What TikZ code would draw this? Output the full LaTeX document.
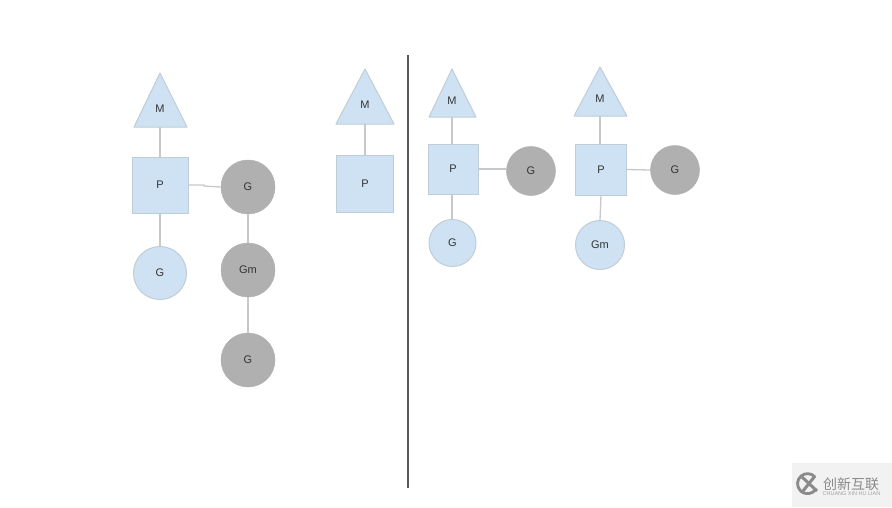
\documentclass[tikz,border=0pt]{standalone}
\usepackage{fontspec}
\setmainfont{Liberation Sans}
\newfontfamily\cjkfont{Noto Sans CJK SC}
\definecolor{bluefill}{HTML}{CFE2F3}
\definecolor{blueedge}{HTML}{BFCDD6}
\definecolor{grayfill}{HTML}{B0B0B0}
\definecolor{linkc}{HTML}{C6C9CB}
\definecolor{wmbg}{HTML}{F2F2F2}
\definecolor{wmfg}{HTML}{8A8A8A}
\tikzset{
  x=1pt,y=-1pt,
  link/.style={draw=linkc,line width=1.3pt},
  sq/.style={draw=blueedge,fill=bluefill,line width=1pt,minimum size=#1,inner sep=0pt,font=\fontsize{11}{11}\selectfont,text=black!80},
  gcirc/.style={circle,draw=grayfill,fill=grayfill,line width=.5pt,minimum size=#1,inner sep=0pt,font=\fontsize{11}{11}\selectfont,text=black!80},
  bcirc/.style={circle,draw=blueedge,fill=bluefill,line width=1pt,minimum size=#1,inner sep=0pt,font=\fontsize{11}{11}\selectfont,text=black!80},
  tri/.style={draw=blueedge,fill=bluefill,line width=1pt,line join=round},
  trilabel/.style={inner sep=0pt,font=\fontsize{11}{11}\selectfont,text=black!80},
}
\begin{document}
\begin{tikzpicture}
\useasboundingbox (0,0) rectangle (892,507);
\fill[white] (0,0) rectangle (892,507);
\coordinate (b1) at (160,127);
\coordinate (b2) at (365,124);
\coordinate (b3) at (452,117);
\coordinate (b4) at (600,116);
% shapes
\node[sq=56pt] (P1) at (160,185) {P};
\node[bcirc=53pt] (G1) at (160,273) {G};
\node[gcirc=54pt] (G2) at (248,187) {G};
\node[gcirc=54pt] (Gm1) at (248,270) {Gm};
\node[gcirc=54pt] (G3) at (248,360) {G};
\node[sq=57pt] (P2) at (365,183.5) {P};
\node[sq=50pt] (P3) at (453,169) {P};
\node[gcirc=49pt] (G4) at (531,171) {G};
\node[bcirc=47pt] (G5) at (452.5,243) {G};
\node[sq=51pt] (P4) at (601,169.5) {P};
\node[gcirc=49pt] (G6) at (675,170) {G};
\node[bcirc=49pt] (Gm2) at (600,245) {Gm};
\draw[tri] (160,73) -- (187,127) -- (134,127) -- cycle;
\node[trilabel] (M1) at (160,109) {M};
\draw[tri] (365,69) -- (394,124) -- (336,124) -- cycle;
\node[trilabel] (M2) at (365,105) {M};
\draw[tri] (452,69) -- (476,117) -- (429,117) -- cycle;
\node[trilabel] (M3) at (452,101) {M};
\draw[tri] (600,67) -- (627,116) -- (574,116) -- cycle;
\node[trilabel] (M4) at (600,99) {M};
% connectors
\draw[link] (b1) -- (P1.north);
\draw[link] (P1.south) -- (G1.north);
\draw[link] (P1.east) -- (204,185) -- (204,186) -- (G2.west);
\draw[link] (G2.south) -- (Gm1.north);
\draw[link] (Gm1.south) -- (G3.north);
\draw[link] (b2) -- (P2.north);
\draw[link] (b3) -- (b3 |- P3.north);
\draw[link] (b3 |- P3.south) -- (b3 |- G5.north);
\draw[link] (P3.east) -- (G4.west |- P3.east);
\draw[link] (b4) -- (b4 |- P4.north);
\draw[link] (P4.south) -- (Gm2.north);
\draw[link] (P4.east) -- (G6.west);
% divider
\coordinate (d1) at (408,55);
\coordinate (d2) at (408,488);
\draw[draw=black!65,line width=1.1pt] (d1) -- (d2);
% watermark
\fill[wmbg] (792,463) rectangle (892,507);
\draw[wmfg,line width=2.8pt] (815.2,477.2) arc (-40:-320:10);
\draw[wmfg,line width=3pt] (802,477) -- (817,491);
\draw[wmfg,line width=3pt] (815,476) -- (803,491);
\node[inner sep=0pt,text=wmfg,font=\cjkfont\fontsize{14}{14}\selectfont] (wm1) at (851,484) {创新互联};
\node[inner sep=0pt,text=wmfg!80,font=\fontsize{5.5}{5.5}\selectfont] (wm2) at (851.5,494) {CHUANG XIN HU LIAN};
\end{tikzpicture}
\end{document}
